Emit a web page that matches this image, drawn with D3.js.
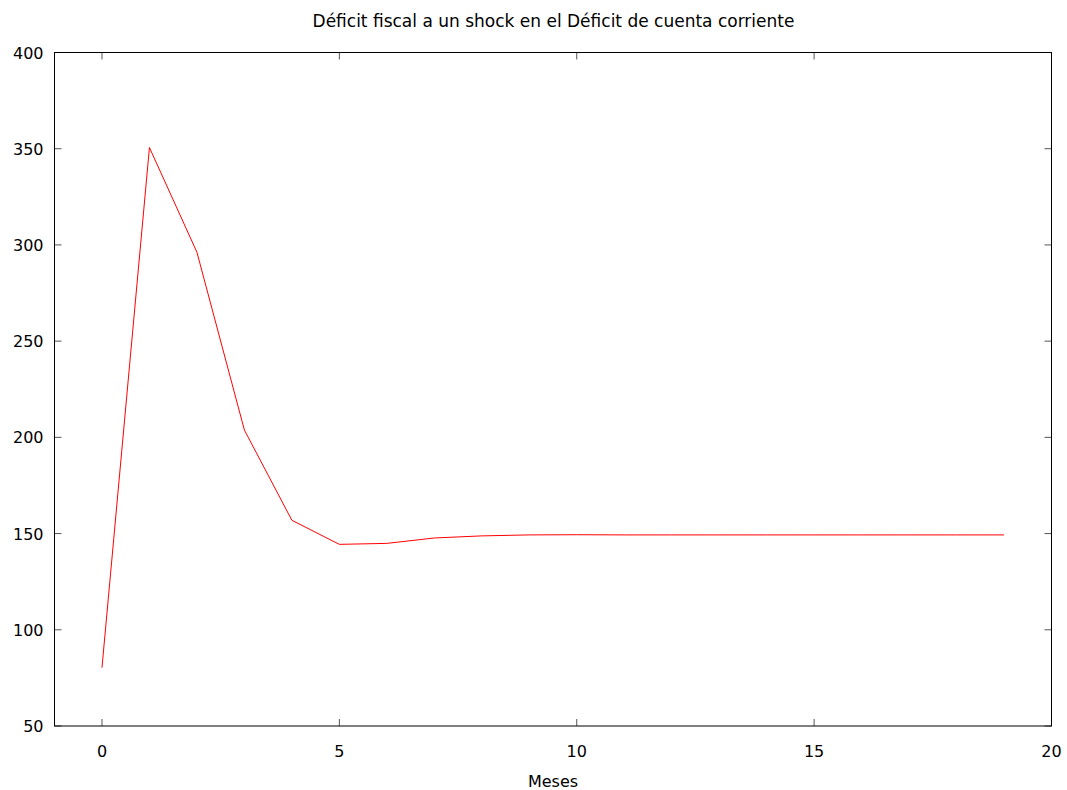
<!DOCTYPE html>
<html><head><meta charset="utf-8">
<script src="https://cdn.jsdelivr.net/npm/d3@7"></script>
<style>body{margin:0;background:#fff}svg{display:block}text{font-family:"DejaVu Sans",sans-serif}</style>
</head><body>
<svg id="c" width="1067" height="790"></svg>
<script>
const title = "Déficit fiscal a un shock en el Déficit de cuenta corriente";
const xLabel = "Meses";
const months = [0,1,2,3,4,5,6,7,8,9,10,11,12,13,14,15,16,17,18,19];
const values = [80.3,350.6,296.2,203.8,156.9,144.4,144.9,147.7,148.8,149.3,149.4,149.3,149.3,149.3,149.3,149.3,149.3,149.3,149.3,149.3];
const xTicks = [0,5,10,15,20];
const yTicks = [50,100,150,200,250,300,350,400];

const svg = d3.select("#c");
const L=54.5, R=1051.5, T=52.5, B=726;
const x = d3.scaleLinear().domain([-1,20]).range([L,R]);
const y = d3.scaleLinear().domain([50,400]).range([B,T]);

const tl = 7;
const g = svg.append("g");
xTicks.forEach(t=>{
  g.append("line").attr("x1",x(t)).attr("x2",x(t)).attr("y1",B).attr("y2",B-tl).attr("stroke","#555").attr("stroke-width",1);
  g.append("line").attr("x1",x(t)).attr("x2",x(t)).attr("y1",T).attr("y2",T+tl).attr("stroke","#555").attr("stroke-width",1);
  g.append("text").attr("x",x(t)).attr("y",B+31).attr("text-anchor","middle").attr("font-size",16).attr("fill","#000").text(t);
});
yTicks.forEach(t=>{
  g.append("line").attr("x1",L).attr("x2",L+tl).attr("y1",y(t)).attr("y2",y(t)).attr("stroke","#555").attr("stroke-width",1);
  g.append("line").attr("x1",R).attr("x2",R-tl).attr("y1",y(t)).attr("y2",y(t)).attr("stroke","#555").attr("stroke-width",1);
  g.append("text").attr("x",L-11).attr("y",y(t)+6).attr("text-anchor","end").attr("font-size",16).attr("fill","#000").text(t);
});
g.append("rect").attr("x",L).attr("y",T).attr("width",R-L).attr("height",B-T).attr("fill","none").attr("stroke","#000").attr("stroke-width",1);

const line = d3.line().x((d,i)=>x(months[i])).y(d=>y(d));
svg.append("path").datum(values).attr("d",line).attr("fill","none").attr("stroke","#ff0000").attr("stroke-width",1);

svg.append("text").attr("x",553.5).attr("y",27).attr("text-anchor","middle").attr("font-size",17).attr("fill","#000").text(title);
svg.append("text").attr("x",553).attr("y",787).attr("text-anchor","middle").attr("font-size",16).attr("fill","#000").text(xLabel);
</script>
</body></html>
